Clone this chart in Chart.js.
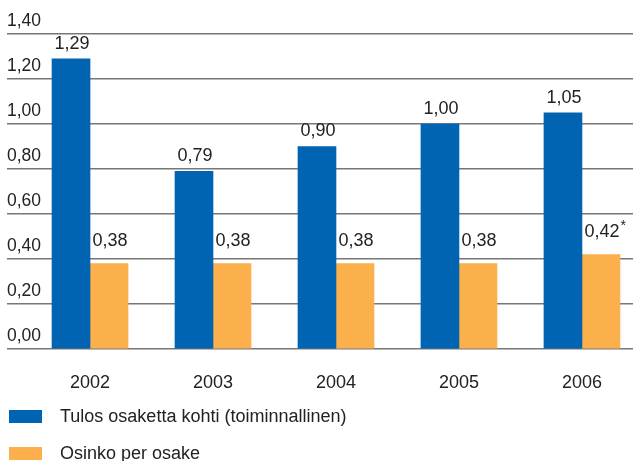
<!DOCTYPE html>
<html>
<head>
<meta charset="utf-8">
<script src="https://cdn.jsdelivr.net/npm/chart.js@4/dist/chart.umd.min.js"></script>
<style>
    html, body { margin: 0; padding: 0; background: #fff; overflow: hidden; }
    #wrap { position: relative; width: 643px; height: 461px; font-family: "Liberation Sans", Arial, sans-serif; color: #222; }
    #kaavio-box { position: absolute; left: 0; top: 0; width: 643px; height: 410px; }
    #selite { position: absolute; left: 9px; top: 406px; }
    .rivi { display: flex; align-items: center; height: 20px; margin-bottom: 17px; font-size: 18px; white-space: nowrap; }
    .laatikko { width: 33px; height: 13px; margin-right: 18px; }
</style>
</head>
<body>
<div id="wrap">
    <div id="kaavio-box"><canvas id="kaavio"></canvas></div>
    <div id="selite"></div>
</div>
<script>
const vuodet = [2002, 2003, 2004, 2005, 2006];
const tulosOsaketta = [1.29, 0.79, 0.90, 1.00, 1.05];
const osinko = [0.38, 0.38, 0.38, 0.38, 0.42];
const yTicks = [0, 0.2, 0.4, 0.6, 0.8, 1.0, 1.2, 1.4];
const sarjaNimet = ['Tulos osaketta kohti (toiminnallinen)', 'Osinko per osake'];
const tahdella = [false, false, false, false, true];

const SININEN = '#0064b2';
const ORANSSI = '#fbb04c';
const FONTTI = '"Liberation Sans", Arial, sans-serif';

function muotoile(arvo) {
    return arvo.toFixed(2).replace('.', ',');
}

// arvot pylväiden päälle
const arvoTekstit = {
    id: 'arvoTekstit',
    afterDatasetsDraw(chart) {
        const ctx = chart.ctx;
        ctx.save();
        ctx.fillStyle = '#222';
        ctx.textAlign = 'center';
        ctx.textBaseline = 'middle';
        chart.data.datasets.forEach((ds, di) => {
            const meta = chart.getDatasetMeta(di);
            meta.data.forEach((bar, i) => {
                const teksti = muotoile(ds.data[i].y);
                const y = bar.y - (di === 0 ? 15 : 22);
                ctx.font = '18px ' + FONTTI;
                ctx.fillText(teksti, bar.x + 1, y);
                if (di === 1 && tahdella[i]) {
                    const w = ctx.measureText(teksti).width;
                    ctx.font = '14px ' + FONTTI;
                    ctx.textAlign = 'left';
                    ctx.fillText('*', bar.x + 1 + w / 2 + 1, y - 6);
                    ctx.textAlign = 'center';
                }
            });
        });
        ctx.restore();
    }
};

const ctx = document.getElementById('kaavio').getContext('2d');
const kaavio = new Chart(ctx, {
    type: 'bar',
    data: {
        datasets: [{
            label: sarjaNimet[0],
            data: vuodet.map((v, i) => ({ x: v, y: tulosOsaketta[i] })),
            backgroundColor: SININEN
        }, {
            label: sarjaNimet[1],
            data: vuodet.map((v, i) => ({ x: v, y: osinko[i] })),
            backgroundColor: ORANSSI
        }]
    },
    options: {
        responsive: true,
        maintainAspectRatio: false,
        animation: false,
        barThickness: 38,
        layout: { padding: { left: 7, right: 10, top: 34, bottom: 1.4 } },
        plugins: {
            legend: { display: false },
            tooltip: { enabled: false }
        },
        scales: {
            x: {
                type: 'linear',
                offset: false,
                min: 2001.325,
                max: 2006.415,
                grid: { display: false },
                border: { display: false },
                ticks: {
                    stepSize: 1,
                    includeBounds: false,
                    padding: 15,
                    maxRotation: 0,
                    color: '#222',
                    font: { family: FONTTI, size: 18 },
                    callback: v => String(v)
                }
            },
            y: {
                min: 0,
                max: 1.4,
                afterBuildTicks: axis => { axis.ticks = yTicks.map(v => ({ value: v })); },
                grid: { color: '#777', lineWidth: 1.5, drawTicks: false },
                border: { display: false },
                ticks: {
                    mirror: true,
                    padding: 0,
                    labelOffset: -13,
                    color: '#222',
                    font: { family: FONTTI, size: 17.5 },
                    callback: v => muotoile(v)
                }
            }
        }
    },
    plugins: [arvoTekstit]
});

// selite kaavion alle
const selite = document.getElementById('selite');
kaavio.data.datasets.forEach(ds => {
    const rivi = document.createElement('div');
    rivi.className = 'rivi';
    rivi.innerHTML = '<span class="laatikko" style="background:' + ds.backgroundColor + '"></span><span>' + ds.label + '</span>';
    selite.appendChild(rivi);
});
</script>
</body>
</html>
